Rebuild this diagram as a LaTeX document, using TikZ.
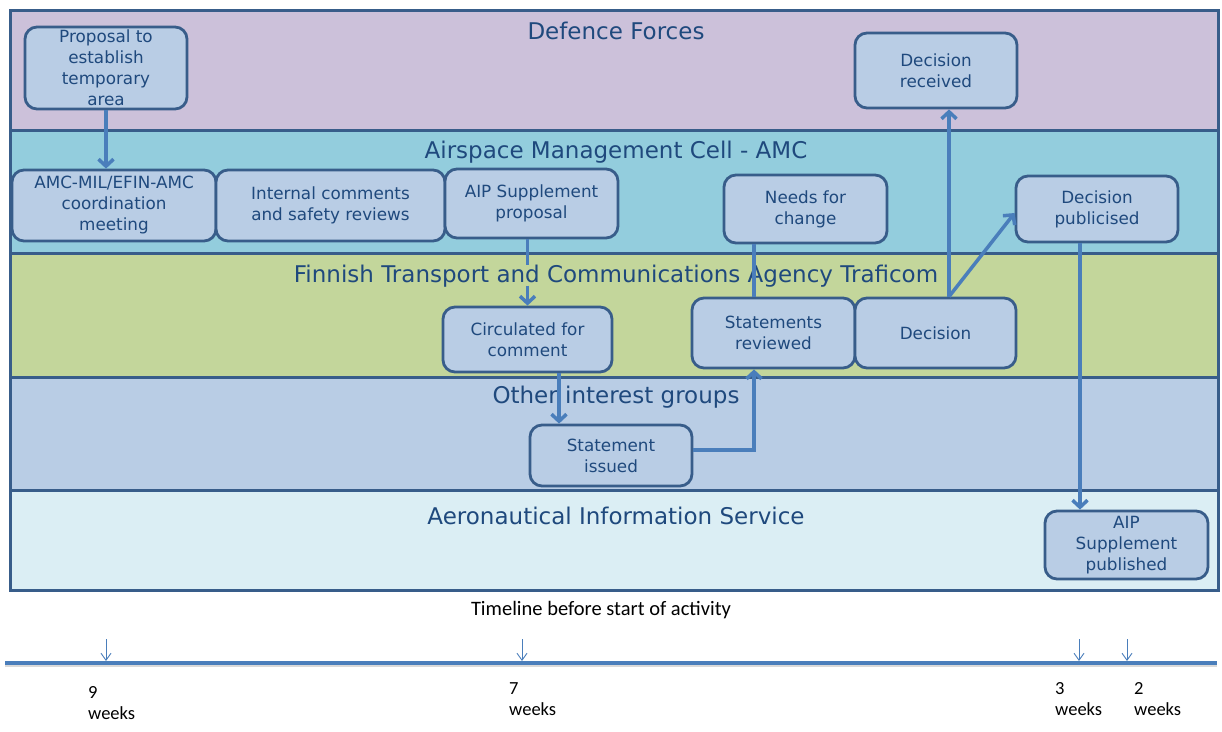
\documentclass[tikz,border=0pt]{standalone}
\usepackage{fontspec}
\setmainfont{DejaVu Sans}
\newfontfamily\calfont{Carlito}
\usetikzlibrary{arrows.meta}
\definecolor{lanedf}{HTML}{CCC1DA}
\definecolor{laneamc}{HTML}{93CDDD}
\definecolor{lanetra}{HTML}{C3D69B}
\definecolor{laneoth}{HTML}{B9CDE5}
\definecolor{laneais}{HTML}{DBEEF4}
\definecolor{boxfill}{HTML}{B9CDE5}
\definecolor{boxline}{HTML}{385D8A}
\definecolor{txt}{HTML}{1F497D}
\definecolor{arrowc}{HTML}{4A7EBB}
\begin{document}
\begin{tikzpicture}[x=1pt,y=-1pt,
  box/.style={draw=boxline, line width=2.8pt, fill=boxfill, rounded corners=12pt,
    align=center, text=txt, font=\fontsize{16.8}{21}\selectfont, inner sep=0pt},
  flow/.style={draw=arrowc, line width=3.5pt, -{Straight Barb[length=7pt,width=15pt]}},
  plainflow/.style={draw=arrowc, line width=3.5pt},
  lanetitle/.style={text=txt, font=\fontsize{23}{27}\selectfont, inner sep=0pt},
  frameline/.style={draw=boxline, line width=3pt},
  tick/.style={draw=arrowc, line width=0.9pt, -{Straight Barb[length=7pt,width=10pt]}},
  wk/.style={anchor=base west, font=\calfont\fontsize{18.5}{21}\selectfont, inner sep=0pt}]
\useasboundingbox (0,0) rectangle (1222,731);
\fill[white] (0,0) rectangle (1222,731);
% lanes
\fill[lanedf]  (10,10)  rectangle (1218,130);
\fill[laneamc] (10,130) rectangle (1218,253);
\fill[lanetra] (10,253) rectangle (1218,377);
\fill[laneoth] (10,377) rectangle (1218,490);
\fill[laneais] (10,490) rectangle (1218,590);
\draw[frameline] (10,130) -- (1218,130);
\draw[frameline] (10,253) -- (1218,253);
\draw[frameline] (10,377) -- (1218,377);
\draw[frameline] (10,490) -- (1218,490);
\draw[frameline] (10,10) rectangle (1218,590);
% lane titles
\node[lanetitle] (tdf)  at (616,31)  {Defence Forces};
\node[lanetitle] (tamc) at (616,152) {Airspace Management Cell - AMC};
\node[lanetitle] (ttra) at (616,276) {Finnish Transport and Communications Agency Traficom};
\node[lanetitle] (toth) at (616,397) {Other interest groups};
\node[lanetitle] (tais) at (616,516) {Aeronautical Information Service};
% boxes
\node[box, minimum width=162pt, minimum height=82pt] (prop) at (106,68) {Proposal to\\establish\\temporary\\area};
\node[box, minimum width=204pt, minimum height=71pt] (coord) at (114,205.5) {AMC-MIL/EFIN-AMC\\coordination\\meeting};
\node[box, minimum width=229pt, minimum height=71pt] (intern) at (330.5,205.5) {Internal comments\\and safety reviews};
\node[box, minimum width=173pt, minimum height=69pt] (aipprop) at (531.5,203.5) {AIP Supplement\\proposal};
\node[box, minimum width=163pt, minimum height=68pt] (needs) at (805.5,209) {Needs for\\change};
\node[box, minimum width=162pt, minimum height=66pt] (dpub) at (1097,209) {Decision\\publicised};
\node[box, minimum width=162pt, minimum height=75pt] (drec) at (936,70.5) {Decision\\received};
\node[box, minimum width=169pt, minimum height=65pt] (circ) at (527.5,339.5) {Circulated for\\comment};
\node[box, minimum width=163pt, minimum height=70pt] (srev) at (773.5,333) {Statements\\reviewed};
\node[box, minimum width=161pt, minimum height=70pt] (dec) at (935.5,333) {Decision};
\node[box, minimum width=162pt, minimum height=61pt] (siss) at (611,455.5) {Statement\\issued};
\node[box, minimum width=163pt, minimum height=68pt] (aippub) at (1126.5,545) {AIP\\Supplement\\published};
% connectors
\draw[flow] (prop.south) -- (prop.south |- coord.north);
\draw[plainflow] (aipprop.south -| circ.north) -- ++(0,26);
\draw[flow] ([yshift=20pt]circ.north) -- (circ.north);
\draw[flow] ([xshift=31.5pt]circ.south) -- ([xshift=31.5pt]circ.south |- siss.north);
\draw[flow] ([yshift=5.5pt]siss.east) -| ([xshift=-19.5pt]srev.south);
\draw[plainflow] ([xshift=-19.5pt]srev.north) -- ([xshift=-19.5pt]srev.north |- needs.south);
\draw[flow] ([xshift=13.5pt]dec.north) -- ([xshift=13.5pt]dec.north |- drec.south);
\draw[flow] ([xshift=13.5pt]dec.north) -- ([yshift=-4pt]dpub.west);
\draw[flow] ([xshift=-17pt]dpub.south) -- ([xshift=-17pt]dpub.south |- aippub.north);
% timeline
\node[font=\calfont\fontsize{20.5}{24}\selectfont, inner sep=0pt] (tlt) at (601,610) {Timeline before start of activity};
\coordinate (tlL) at (5,663);
\coordinate (tlR) at (1217,663);
\draw[draw=black!15, line width=3pt] ([yshift=-2.5pt]tlL) -- ([yshift=-2.5pt]tlR);
\draw[draw=arrowc, line width=4pt] (tlL) -- (tlR);
\coordinate (a9) at (106,639);
\coordinate (a7) at (522,639);
\coordinate (a3) at (1079,639);
\coordinate (a2) at (1127,639);
\draw[tick] (a9) -- ++(0,22);
\draw[tick] (a7) -- ++(0,22);
\draw[tick] (a3) -- ++(0,22);
\draw[tick] (a2) -- ++(0,22);
\node[wk] (n9) at (88,698) {9};
\node[wk] (w9) at (88,719) {weeks};
\node[wk] (n7) at (509,694) {7};
\node[wk] (w7) at (509,715) {weeks};
\node[wk] (n3) at (1055,694) {3};
\node[wk] (w3) at (1055,715) {weeks};
\node[wk] (n2) at (1134,694) {2};
\node[wk] (w2) at (1134,715) {weeks};
\end{tikzpicture}
\end{document}
